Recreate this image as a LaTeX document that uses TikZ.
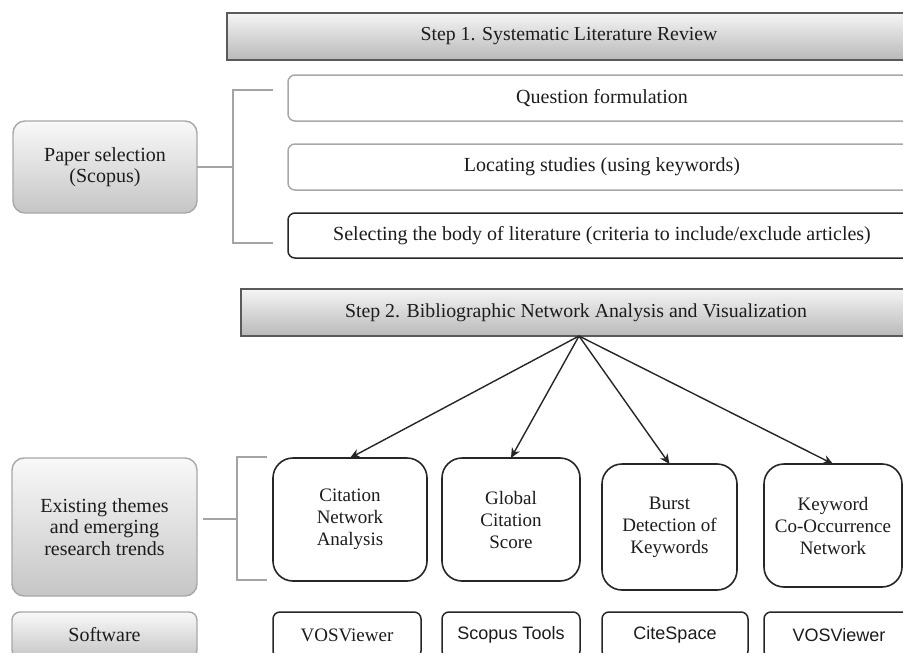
\documentclass[tikz,border=0pt]{standalone}
\usepackage{fontspec}
\setmainfont{Liberation Serif}
\newfontfamily\arialfont{Liberation Sans}
\usetikzlibrary{arrows.meta, calc}

\definecolor{stepedge}{HTML}{5A5A5A}
\definecolor{softedge}{HTML}{A8A8A8}
\definecolor{brackgray}{HTML}{A4A4A4}
\definecolor{inkgray}{HTML}{1C1C1C}

\begin{document}
\begin{tikzpicture}[x=1pt, y=1pt,
  box/.style={draw, anchor=north west, inner sep=0pt, outer sep=0pt, align=center, text=inkgray},
  stepbox/.style={box, draw=stepedge, line width=1.5pt, top color=gray!8, bottom color=gray!55, font=\fontsize{19.8}{23}\selectfont},
  labelbox/.style={box, draw=softedge, line width=1.4pt, rounded corners=12pt, top color=gray!5, bottom color=gray!45, font=\fontsize{20}{21.5}\selectfont},
  taskbox/.style={box, draw=softedge, line width=1.5pt, rounded corners=7pt, fill=white, font=\fontsize{20}{23}\selectfont},
  methodbox/.style={box, draw=black!85, line width=1.6pt, rounded corners=20pt, fill=white, font=\fontsize{19}{22}\selectfont},
  toolbox/.style={box, draw=black!85, line width=1.5pt, rounded corners=7pt, fill=white, font=\fontsize{18}{20}\selectfont},
  brace/.style={draw=brackgray, line width=2.6pt},
  link/.style={-{Stealth[length=10pt, width=9pt]}, line width=1.4pt, black!85}
]
\useasboundingbox (0,0) rectangle (903,-653);
\begin{scope}
\clip (0,0) rectangle (903,-653);

% step 1
\node[stepbox, minimum width=684pt, minimum height=47pt] (step1) at (227,-13) {Step 1. Systematic Literature Review};
\node[labelbox, minimum width=184pt, minimum height=92pt] (paper) at (13,-121) {Paper selection\\(Scopus)};
\node[taskbox, minimum width=628pt, minimum height=46pt] (question) at (288,-75) {Question formulation};
\node[taskbox, minimum width=628pt, minimum height=46pt] (locating) at (288,-144) {Locating studies (using keywords)};
\node[taskbox, draw=black!85, minimum width=628pt, minimum height=45pt] (selecting) at (288,-213) {Selecting the body of literature (criteria to include/exclude articles)};

\coordinate (b1top) at (233,-90);
\coordinate (b1bot) at (233,-243);
\coordinate (b1mid) at (233,-167);
\draw[brace] (273,-90) -- (b1top) -- (b1bot) -- (273,-243);
\draw[brace] (paper.east) -- (b1mid);

% step 2
\node[stepbox, minimum width=670pt, minimum height=47pt] (step2) at (241,-289) {Step 2. Bibliographic Network Analysis and Visualization};
\coordinate (apex) at (579,-336);

\node[labelbox, minimum width=185pt, minimum height=138pt] (themes) at (12,-458) {Existing themes\\and emerging\\research trends};
\node[methodbox, minimum width=154pt, minimum height=123pt] (cna) at (273,-458) {Citation\\Network\\Analysis};
\node[methodbox, minimum width=138pt, minimum height=123pt] (gcs) at (442,-458) {Global\\Citation\\Score};
\node[methodbox, minimum width=135pt, minimum height=126pt] (bdk) at (602,-464) {Burst\\Detection of\\Keywords};
\node[methodbox, minimum width=138pt, minimum height=123pt] (kcn) at (764,-464) {Keyword\\Co-Occurrence\\Network};

\foreach \m in {cna, gcs, bdk, kcn}
  \draw[link] (apex) -- (\m.north);

\coordinate (b2top) at (237,-457);
\coordinate (b2bot) at (237,-580);
\coordinate (b2mid) at (237,-519);
\coordinate (b2stub) at (203,-519);
\draw[brace] (267,-457) -- (b2top) -- (b2bot) -- (267,-580);
\draw[brace] (b2stub) -- (b2mid);

% software
\node[labelbox, rounded corners=8pt, minimum width=185pt, minimum height=46pt] (software) at (12,-612) {Software};
\node[toolbox, font=\fontsize{19}{20}\selectfont, minimum width=148pt, minimum height=46pt] (vos1) at (273,-612) {VOSViewer};
\node[toolbox, font=\fontsize{18}{20}\selectfont\arialfont, minimum width=138pt, minimum height=46pt] (scopus) at (442,-612) {Scopus Tools};
\node[toolbox, font=\fontsize{18}{20}\selectfont\arialfont, minimum width=146pt, minimum height=46pt] (cite) at (602,-612) {CiteSpace};
\node[toolbox, font=\fontsize{18}{20}\selectfont\arialfont, minimum width=150pt, minimum height=46pt] (vos2) at (764,-612) {VOSViewer};
\end{scope}
\end{tikzpicture}
\end{document}
